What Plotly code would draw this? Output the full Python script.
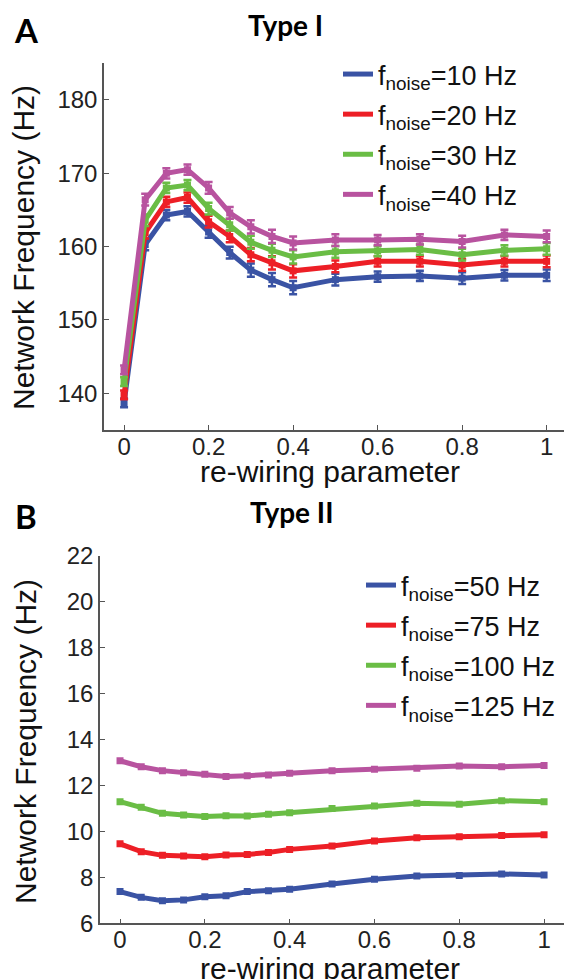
import plotly.graph_objects as go

# ---------------- data ----------------
rewiring = [0, 0.05, 0.1, 0.15, 0.2, 0.25, 0.3, 0.35, 0.4, 0.5, 0.6, 0.7, 0.8, 0.9, 1.0]

type1_labels = ["10", "20", "30", "40"]
type1_f10 = [138.7, 160.3, 164.3, 164.8, 162.0, 159.2, 156.8, 155.5, 154.4, 155.5, 155.9, 156.0, 155.7, 156.1, 156.1]
type1_f20 = [139.8, 161.9, 166.1, 166.7, 163.4, 161.4, 158.9, 157.8, 156.7, 157.3, 158.0, 158.0, 157.5, 158.0, 158.0]
type1_f30 = [141.6, 163.6, 168.0, 168.4, 165.2, 163.0, 160.6, 159.5, 158.6, 159.3, 159.4, 159.6, 158.9, 159.5, 159.7]
type1_f40 = [143.2, 166.4, 170.0, 170.5, 168.0, 164.6, 162.7, 161.4, 160.5, 160.9, 160.9, 161.0, 160.7, 161.6, 161.4]
type1_err = [0.6, 0.8, 0.7, 0.7, 0.8, 0.8, 0.9, 0.9, 0.9, 0.8, 0.7, 0.7, 0.8, 0.7, 0.8]

type2_labels = ["50", "75", "100", "125"]
type2_f50 = [7.38, 7.13, 6.98, 7.02, 7.16, 7.20, 7.38, 7.42, 7.48, 7.71, 7.92, 8.06, 8.08, 8.15, 8.10]
type2_f75 = [9.46, 9.12, 8.96, 8.93, 8.90, 8.98, 9.00, 9.08, 9.22, 9.37, 9.59, 9.73, 9.77, 9.82, 9.86]
type2_f100 = [11.30, 11.05, 10.79, 10.72, 10.65, 10.69, 10.67, 10.75, 10.82, 11.00, 11.11, 11.23, 11.19, 11.34, 11.30]
type2_f125 = [13.08, 12.82, 12.65, 12.56, 12.49, 12.39, 12.43, 12.46, 12.54, 12.64, 12.71, 12.75, 12.85, 12.82, 12.87]

x_ticks = [0, 0.2, 0.4, 0.6, 0.8, 1.0]
x_ticktext = ["0", "0.2", "0.4", "0.6", "0.8", "1"]
y1_ticks = [140, 150, 160, 170, 180]
y2_ticks = [6, 8, 10, 12, 14, 16, 18, 20, 22]

x_title = "re-wiring parameter"
y_title = "Network Frequency (Hz)"

colors = ["#3a53a4", "#ed1f26", "#6abd45", "#b8539f"]

W, H = 564, 979
fig = go.Figure()

def add_series(xs, ys, name, color, xa, ya, legend, err=None):
    fig.add_trace(go.Scatter(
        x=xs, y=ys, mode="lines+markers", xaxis=xa, yaxis=ya,
        line=dict(color=color, width=5),
        marker=dict(symbol="square", size=7, color=color),
        error_y=(dict(type="data", array=err, color=color, thickness=2.5, width=4)
                 if err is not None else None),
        showlegend=False, hoverinfo="skip"))
    fig.add_trace(go.Scatter(
        x=[None], y=[None], mode="lines", xaxis=xa, yaxis=ya,
        line=dict(color=color, width=5), name=name, legend=legend,
        legendgroup=name, showlegend=True))

for lab, ys, c in zip(type1_labels, [type1_f10, type1_f20, type1_f30, type1_f40], colors):
    add_series(rewiring, ys, "f<sub>noise</sub>=%s Hz" % lab, c, "x", "y", "legend", type1_err)
for lab, ys, c in zip(type2_labels, [type2_f50, type2_f75, type2_f100, type2_f125], colors):
    add_series(rewiring, ys, "f<sub>noise</sub>=%s Hz" % lab, c, "x2", "y2", "legend2")

FONT = "Arial"
tickfont = dict(family=FONT, size=24, color="#222")
titlefont = dict(family=FONT, size=30, color="#111")
axis_common = dict(showline=True, linecolor="#555", linewidth=1.5, ticks="inside",
                   ticklen=5, tickcolor="#555", showgrid=False, zeroline=False,
                   tickfont=tickfont, mirror=False, automargin=False)

def ann(text, px, py, font, angle=0):
    return dict(text=text, x=px / W, y=1 - py / H, xref="paper", yref="paper",
                xanchor="center", yanchor="middle", showarrow=False,
                textangle=angle, font=font)

bold = dict(family="Lato", size=28, color="black")
bold_big = dict(family="Lato", size=33, color="black")

fig.update_layout(
    width=W, height=H, margin=dict(l=0, r=0, t=0, b=0, autoexpand=False),
    paper_bgcolor="white", plot_bgcolor="white",
    xaxis=dict(domain=[104 / W, 1], range=[-0.0475, 1.041], tickvals=x_ticks,
               ticktext=x_ticktext, anchor="y", ticklabelstandoff=-6, **axis_common),
    yaxis=dict(domain=[1 - 430 / H, 1 - 63.3 / H], range=[135, 185], tickvals=y1_ticks,
               anchor="x", **axis_common),
    xaxis2=dict(domain=[100 / W, 1], range=[-0.0472, 1.047], tickvals=x_ticks,
                ticktext=x_ticktext, anchor="y2", ticklabelstandoff=-6, **axis_common),
    yaxis2=dict(domain=[1 - 923.3 / H, 1 - 556 / H], range=[6, 22], tickvals=y2_ticks,
                anchor="x2", **axis_common),
    legend=dict(x=338 / W, y=1 - 50 / H, xanchor="left", yanchor="top",
                font=dict(family=FONT, size=27, color="#111"),
                bgcolor="rgba(0,0,0,0)", tracegroupgap=2),
    legend2=dict(x=361 / W, y=1 - 561 / H, xanchor="left", yanchor="top",
                 font=dict(family=FONT, size=27, color="#111"),
                 bgcolor="rgba(0,0,0,0)", tracegroupgap=2),
    annotations=[
        ann("<b>Type I</b>", 285, 25, bold),
        ann("<b>A</b>", 26, 30, bold_big),
        ann("<b>Type II</b>", 291, 512, bold),
        ann("<b>B</b>", 26, 516, bold_big),
        ann(x_title, 330, 471, titlefont),
        ann(x_title, 330, 968, titlefont),
        ann(y_title, 23, 248, titlefont, -90),
        ann(y_title, 25, 742, titlefont, -90),
    ],
)

fig.write_html("out.html")
